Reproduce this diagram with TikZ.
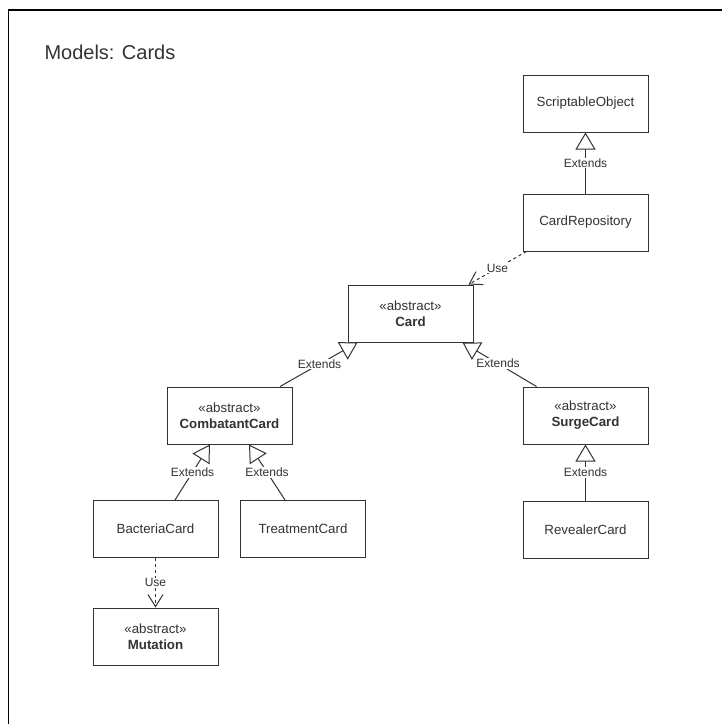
\documentclass[tikz,border=0pt]{standalone}
\usepackage{fontspec}
\setmainfont{Liberation Sans}
\usetikzlibrary{arrows.meta}
\definecolor{ink}{HTML}{333333}
\tikzset{
  classbox/.style={draw=ink, line width=1pt, fill=white, minimum width=125pt,
    minimum height=57pt, inner sep=0pt, align=center, text=ink,
    font=\fontsize{13.3}{16}\selectfont},
  ext/.style={draw=ink, line width=1pt,
    -{Triangle[open, length=17pt, width=20pt, fill=white]}},
  usedep/.style={draw=ink, line width=1pt, dash pattern=on 3pt off 3pt,
    -{Straight Barb[length=12pt, width=15pt]}},
  lbl/.style={fill=white, inner sep=1pt, text=ink, font=\fontsize{12}{14}\selectfont},
}
\begin{document}
\begin{tikzpicture}[x=1pt, y=-1pt]
  \useasboundingbox (0,0) rectangle (722,724);
  % frame of the diagram sheet
  \draw[line width=1.6pt] (8.5,724) -- (8.5,10) -- (722,10);
  \node[anchor=west, text=ink, font=\fontsize{20}{24}\selectfont] (title) at (41,52) {Models: Cards};

  % classes
  \node[classbox] (so)     at (585.5,103.5) {ScriptableObject};
  \node[classbox] (repo)   at (585.5,222.5) {CardRepository};
  \node[classbox] (card)   at (410.5,313.5) {«abstract»\\\textbf{Card}};
  \node[classbox] (comb)   at (229.5,415.5) {«abstract»\\\textbf{CombatantCard}};
  \node[classbox] (surge)  at (585.5,415.5) {«abstract»\\\textbf{SurgeCard}};
  \node[classbox] (bact)   at (155.5,529)   {BacteriaCard};
  \node[classbox] (treat)  at (303,529)     {TreatmentCard};
  \node[classbox] (reveal) at (585.5,529.5) {RevealerCard};
  \node[classbox] (mut)    at (155.5,636.5) {«abstract»\\\textbf{Mutation}};

  % generalisations
  \draw[ext] (repo) -- node[lbl]{Extends} (so);
  \draw[ext] ([xshift=50.5pt]comb.north) -- node[lbl, pos=0.51]{Extends} ([xshift=10pt]card.south west);
  \draw[ext] ([xshift=14pt]surge.north west) -- node[lbl, pos=0.52]{Extends} ([xshift=-11pt]card.south east);
  \draw[ext] (reveal) -- node[lbl]{Extends} (surge);
  \draw[ext] ([xshift=19.5pt]bact.north) -- node[lbl]{Extends} ([xshift=-19.5pt]comb.south);
  \draw[ext] ([xshift=-18pt]treat.north) -- node[lbl]{Extends} ([xshift=19.5pt]comb.south);

  % dependencies
  \draw[usedep] ([xshift=4pt]repo.south west) -- node[lbl]{Use} ([xshift=-5pt]card.north east);
  \draw[usedep] (bact) -- node[lbl]{Use} (mut);
\end{tikzpicture}
\end{document}
